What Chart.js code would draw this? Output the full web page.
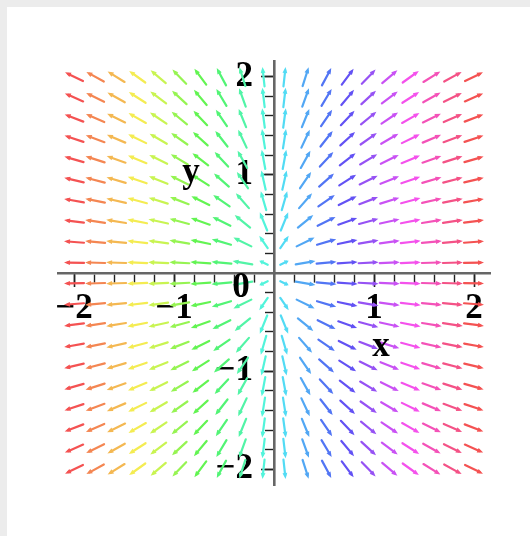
<!DOCTYPE html>
<html>
<head>
<meta charset="utf-8">
<script src="https://cdn.jsdelivr.net/npm/chart.js@4"></script>
<style>
  html, body { margin: 0; padding: 0; background: #ececec; }
  #panel { position: absolute; left: 7px; top: 7px; width: 523px; height: 529px; background: #fff; }
  #wrap { position: absolute; left: 0; top: 0; width: 530px; height: 536px; }
  #wrap canvas { filter: blur(0.45px); }
</style>
</head>
<body>
<div id="panel"></div>
<div id="wrap"><canvas id="field"></canvas></div>
<script>
// 20 x 20 sample grid of the plot (Maple fieldplot style)
const gridX = [-2, -1.789, -1.579, -1.368, -1.158, -0.947, -0.737, -0.526, -0.316, -0.105,
               0.105, 0.316, 0.526, 0.737, 0.947, 1.158, 1.368, 1.579, 1.789, 2];
const gridY = [-2, -1.789, -1.579, -1.368, -1.158, -0.947, -0.737, -0.526, -0.316, -0.105,
               0.105, 0.316, 0.526, 0.737, 0.947, 1.158, 1.368, 1.579, 1.789, 2];
// plotted vector field [2x, y]
const fieldU = (x, y) => 2 * x;
const fieldV = (x, y) => y;
const majorTicks = [-2, -1, 1, 2];

const points = [];
gridX.forEach(x => gridY.forEach(y => points.push({ x: x, y: y })));

const labelFont = { family: '"Liberation Serif", "DejaVu Serif", serif', size: 35, weight: 'bold' };
const minus = v => String(v).replace('-', '\u2212');

function keepTicks(scale, major) {
  scale.ticks = scale.ticks.filter(t => Math.abs(t.value) <= 2.001 && Math.abs(t.value) > 0.001 &&
    (!major || majorTicks.includes(Math.round(t.value))));
}
function noSpace(scale) {
  scale.width = scale.isHorizontal() ? scale.width : 0;
  scale.height = scale.isHorizontal() ? 0 : scale.height;
  scale.paddingLeft = scale.paddingRight = scale.paddingTop = scale.paddingBottom = 0;
}

const arrows = {
  id: 'arrows',
  afterDatasetsDraw(chart) {
    const ctx = chart.ctx;
    const xs = chart.scales.x, ys = chart.scales.y;
    chart.data.datasets[0].data.forEach(p => {
      const u = fieldU(p.x, p.y), v = fieldV(p.x, p.y);
      const mag = Math.hypot(u, v);
      if (!mag) return;
      const len = 0.2 * Math.min(1, mag / 0.5);
      const ex = u / mag * len / 2, ey = v / mag * len / 2;
      const x0 = xs.getPixelForValue(p.x - ex), y0 = ys.getPixelForValue(p.y - ey);
      const x1 = xs.getPixelForValue(p.x + ex), y1 = ys.getPixelForValue(p.y + ey);
      const a = Math.atan2(y1 - y0, x1 - x0);
      const hl = Math.min(6, Math.hypot(x1 - x0, y1 - y0) * 0.45), hw = 2.4;
      const col = 'hsl(' + ((p.x + 2) * 90) + ', 88%, 64%)';
      ctx.save();
      ctx.strokeStyle = col;
      ctx.fillStyle = col;
      ctx.lineWidth = 2.2;
      ctx.lineCap = 'round';
      ctx.beginPath();
      ctx.moveTo(x0, y0);
      ctx.lineTo(x1 - Math.cos(a) * hl * 0.6, y1 - Math.sin(a) * hl * 0.6);
      ctx.stroke();
      ctx.beginPath();
      ctx.moveTo(x1, y1);
      ctx.lineTo(x1 - Math.cos(a) * hl - Math.sin(a) * hw, y1 - Math.sin(a) * hl + Math.cos(a) * hw);
      ctx.lineTo(x1 - Math.cos(a) * hl + Math.sin(a) * hw, y1 - Math.sin(a) * hl - Math.cos(a) * hw);
      ctx.closePath();
      ctx.fill();
      ctx.restore();
    });
  },
  afterDraw(chart) {
    const ctx = chart.ctx;
    const xs = chart.scales.x, ys = chart.scales.y;
    ctx.save();
    ctx.fillStyle = '#000';
    ctx.font = 'bold 35px "Liberation Serif", serif';
    ctx.textAlign = 'center';
    ctx.textBaseline = 'middle';
    ctx.fillText('0', xs.getPixelForValue(-0.33), ys.getPixelForValue(-0.15));
    ctx.fillText('x', xs.getPixelForValue(1.07), ys.getPixelForValue(-0.75));
    ctx.fillText('y', xs.getPixelForValue(-0.83), ys.getPixelForValue(1.02));
    ctx.restore();
  }
};

function axis(extra) {
  return Object.assign({
    type: 'linear',
    position: 'center',
    min: -2.16,
    max: 2.16,
    z: 1,
    afterFit: noSpace
  }, extra);
}

new Chart(document.getElementById('field'), {
  type: 'scatter',
  data: {
    datasets: [{ data: points, pointRadius: 0, pointHoverRadius: 0 }]
  },
  options: {
    responsive: true,
    maintainAspectRatio: false,
    animation: false,
    events: [],
    layout: { padding: { left: 58, right: 40, top: 61, bottom: 51 } },
    plugins: { legend: { display: false }, tooltip: { enabled: false } },
    scales: {
      x: axis({
        ticks: { stepSize: 0.2, display: false, includeBounds: false },
        afterBuildTicks: s => keepTicks(s, false),
        grid: { drawOnChartArea: false, tickLength: 8, tickColor: '#222', tickWidth: 1.4 },
        border: { display: true, color: '#666', width: 2.6 }
      }),
      x2: axis({
        axis: 'x',
        ticks: { stepSize: 1, includeBounds: false, autoSkip: false, maxRotation: 0, padding: 2, color: '#000', font: labelFont, callback: v => minus(v) },
        afterBuildTicks: s => keepTicks(s, true),
        grid: { drawOnChartArea: false, tickLength: 13, tickColor: '#222', tickWidth: 1.6 },
        border: { display: false }
      }),
      y: axis({
        ticks: { stepSize: 0.2, display: false, includeBounds: false },
        afterBuildTicks: s => keepTicks(s, false),
        grid: { drawOnChartArea: false, tickLength: 8, tickColor: '#222', tickWidth: 1.4 },
        border: { display: true, color: '#666', width: 2.6 }
      }),
      y2: axis({
        axis: 'y',
        ticks: { stepSize: 1, includeBounds: false, autoSkip: false, padding: 8, color: '#000', font: labelFont, callback: v => minus(v) },
        afterBuildTicks: s => keepTicks(s, true),
        grid: { drawOnChartArea: false, tickLength: 13, tickColor: '#222', tickWidth: 1.6 },
        border: { display: false }
      })
    }
  },
  plugins: [arrows]
});
</script>
</body>
</html>
